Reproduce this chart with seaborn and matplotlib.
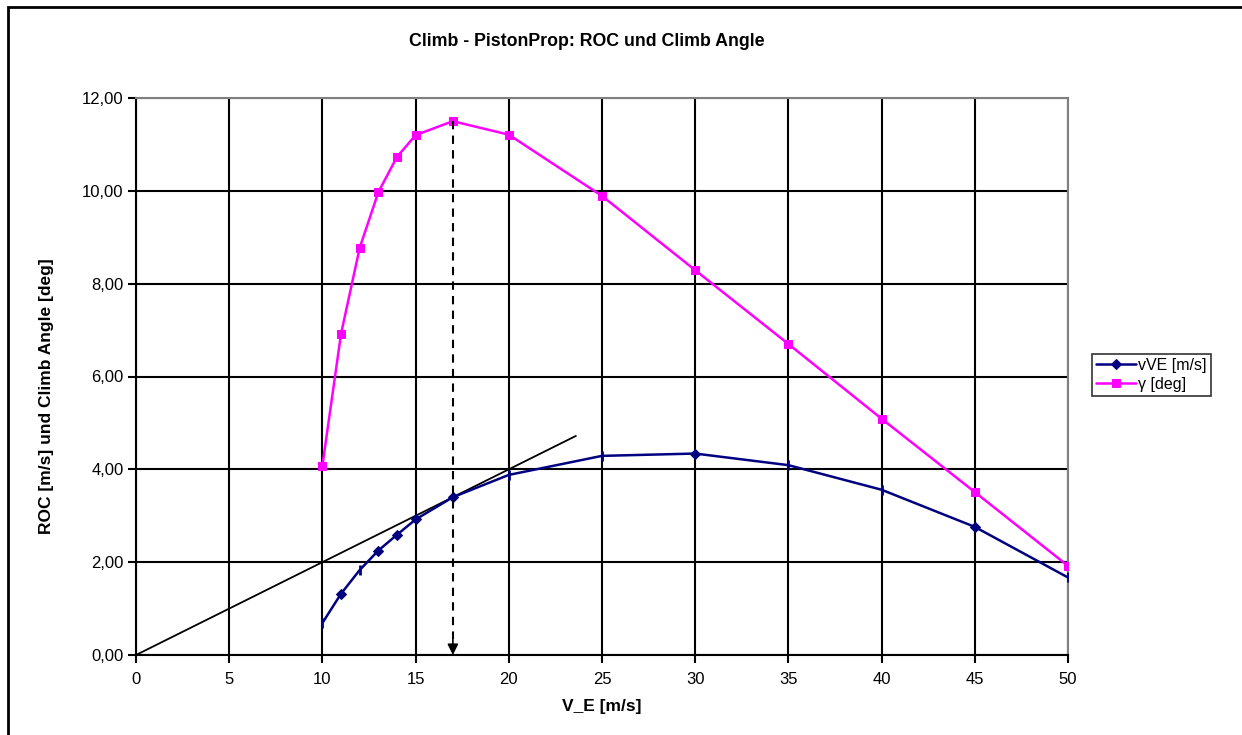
import matplotlib
matplotlib.use("Agg")
import matplotlib.pyplot as plt
from matplotlib.patches import Rectangle
from matplotlib.ticker import FuncFormatter
import seaborn as sns
import numpy as np

# ---- data ----
v_e = [10, 11, 12, 13, 14, 15, 17, 20, 25, 30, 35, 40, 45, 50]
vve = [0.69, 1.32, 1.83, 2.25, 2.59, 2.92, 3.40, 3.88, 4.29, 4.34, 4.09, 3.56, 2.76, 1.67]
gamma = [4.08, 6.92, 8.77, 9.97, 10.73, 11.20, 11.50, 11.21, 9.89, 8.29, 6.70, 5.09, 3.51, 1.92]
diamond_idx = [1, 3, 4, 5, 6, 9, 12]          # points drawn with diamonds
bar_idx = [0, 2, 7, 8, 10, 11, 13]             # points drawn with short bars
tangent_x = [0, 23.6]
tangent_slope = 0.2
v_opt = 17
x_ticks = list(range(0, 51, 5))
y_ticks = [0, 2, 4, 6, 8, 10, 12]

title = "Climb - PistonProp: ROC und Climb Angle"
xlabel = "V_E [m/s]"
ylabel = "ROC [m/s] und Climb Angle [deg]"
labels = ["vVE [m/s]", "γ [deg]"]

# ---- style ----
sns.set_style("white")
plt.rcParams["font.family"] = ["Liberation Sans", "DejaVu Sans"]
plt.rcParams.update({"text.color": "black", "axes.labelcolor": "black",
                     "xtick.color": "black", "ytick.color": "black"})

W, H = 1242, 735
fig = plt.figure(figsize=(W / 100, H / 100), dpi=100)
ax = fig.add_axes([136 / W, (H - 655) / H, (1068 - 136) / W, (655 - 98) / H])

navy = "#000080"
magenta = "#FF00FF"

# grid
ax.set_xlim(0, 50)
ax.set_ylim(0, 12)
ax.set_xticks(x_ticks)
ax.set_yticks(y_ticks)
ax.grid(True, color="black", lw=1.5, zorder=0)
ax.set_axisbelow(True)

# tangent line
ax.plot(tangent_x, [tangent_slope * t for t in tangent_x], color="black", lw=1.3, zorder=3)

# series
sns.lineplot(x=v_e, y=vve, ax=ax, color=navy, lw=1.8, marker="D", markersize=5.5,
             markeredgecolor=navy, markevery=diamond_idx, label=labels[0], zorder=4)
ax.plot([v_e[i] for i in bar_idx], [vve[i] for i in bar_idx], ls="none", marker="|",
        markersize=7, markeredgewidth=2, color=navy, zorder=4)
sns.lineplot(x=v_e, y=gamma, ax=ax, color=magenta, lw=1.8, marker="s", markersize=6,
             markeredgecolor=magenta, label=labels[1], zorder=4)

# dashed arrow at optimum speed
g_opt = gamma[v_e.index(v_opt)]
ax.plot([v_opt, v_opt], [g_opt, 0.35], color="black", lw=1.5, ls=(0, (4, 3)), zorder=5)
ax.annotate("", xy=(v_opt, 0), xytext=(v_opt, 0.4),
            arrowprops=dict(arrowstyle="-|>", color="black", lw=1.2,
                            mutation_scale=16, shrinkA=0, shrinkB=0), zorder=6)

# spines / ticks
for s in ["left", "bottom"]:
    ax.spines[s].set_color("black")
    ax.spines[s].set_linewidth(1.5)
for s in ["top", "right"]:
    ax.spines[s].set_color("#808080")
    ax.spines[s].set_linewidth(1.5)
ax.tick_params(axis="both", which="major", direction="out", length=6, width=1.5,
               color="black", labelcolor="black", labelsize=12, pad=3,
               bottom=True, left=True)
ax.tick_params(axis="x", pad=6)
ax.yaxis.set_major_formatter(FuncFormatter(lambda v, p: f"{v:.2f}".replace(".", ",")))
ax.xaxis.set_major_formatter(FuncFormatter(lambda v, p: f"{int(v)}"))

ax.set_xlabel(xlabel, fontsize=12.5, fontweight="bold", color="black")
ax.set_ylabel(ylabel, fontsize=12.5, fontweight="bold", color="black")
ax.xaxis.set_label_coords((602 - 136) / 932, -(707 - 655) / 557)
ax.xaxis.label.set_va("center")
ax.yaxis.set_label_coords((47 - 136) / 932, (655 - 396) / 557)
ax.yaxis.label.set_va("center")

fig.text(587 / W, 1 - 41 / H, title, ha="center", va="center", fontsize=12.8,
         fontweight="bold", color="black")

# legend
leg = ax.legend(loc="upper left", bbox_to_anchor=(1092 / W, 1 - 354 / H),
                bbox_transform=fig.transFigure, frameon=True, fancybox=False,
                edgecolor="black", fontsize=11.5, handlelength=2.5, borderpad=0.25,
                labelspacing=0.25, handletextpad=0.15, borderaxespad=0)
leg.get_frame().set_linewidth(1.2)
for t in leg.get_texts():
    t.set_color("black")

# outer chart frame
fig.add_artist(Rectangle((8 / W, -0.05), 1.2, (H - 7) / H + 0.05, fill=False,
                         edgecolor="black", lw=2, transform=fig.transFigure))

fig.savefig("out.png", dpi=100, facecolor="white")
